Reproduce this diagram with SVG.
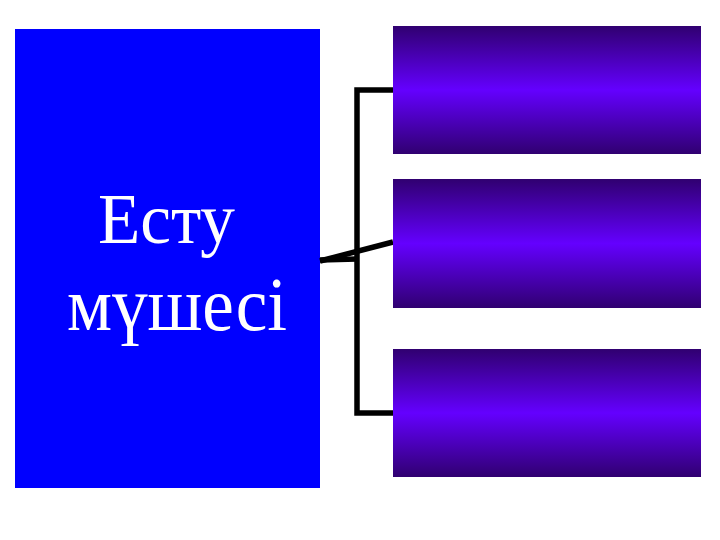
<svg xmlns="http://www.w3.org/2000/svg" width="720" height="540" viewBox="0 0 720 540">
<defs>
<linearGradient id="g" x1="0" y1="0" x2="0" y2="1">
<stop offset="0" stop-color="#300070"/>
<stop offset="0.5" stop-color="#6400ff"/>
<stop offset="1" stop-color="#300070"/>
</linearGradient>
</defs>
<style>
.box{fill:url(#g)}
.conn{fill:none;stroke:#000;stroke-width:5.5}
.lbl{fill:#fff;font-family:"Liberation Serif","Times New Roman",serif}
</style>
<rect width="720" height="540" fill="#fff"/>
<g id="main">
<rect x="15" y="29" width="305" height="459" fill="#0000ff"/>
<text class="lbl" x="98" y="243" font-size="71" textLength="137" lengthAdjust="spacingAndGlyphs">Есту</text>
<text class="lbl" x="67" y="330" font-size="77" textLength="220" lengthAdjust="spacingAndGlyphs">мүшесі</text>
</g>
<g id="connectors">
<polyline class="conn" points="393,90 357,90 357,413 393,413"/>
<line class="conn" x1="320" y1="260" x2="357" y2="259"/>
<line class="conn" x1="320" y1="261" x2="393" y2="242"/>
</g>
<g id="box1"><rect class="box" x="393" y="26" width="308" height="128"/></g>
<g id="box2"><rect class="box" x="393" y="179" width="308" height="129"/></g>
<g id="box3"><rect class="box" x="393" y="349" width="308" height="128"/></g>
</svg>
